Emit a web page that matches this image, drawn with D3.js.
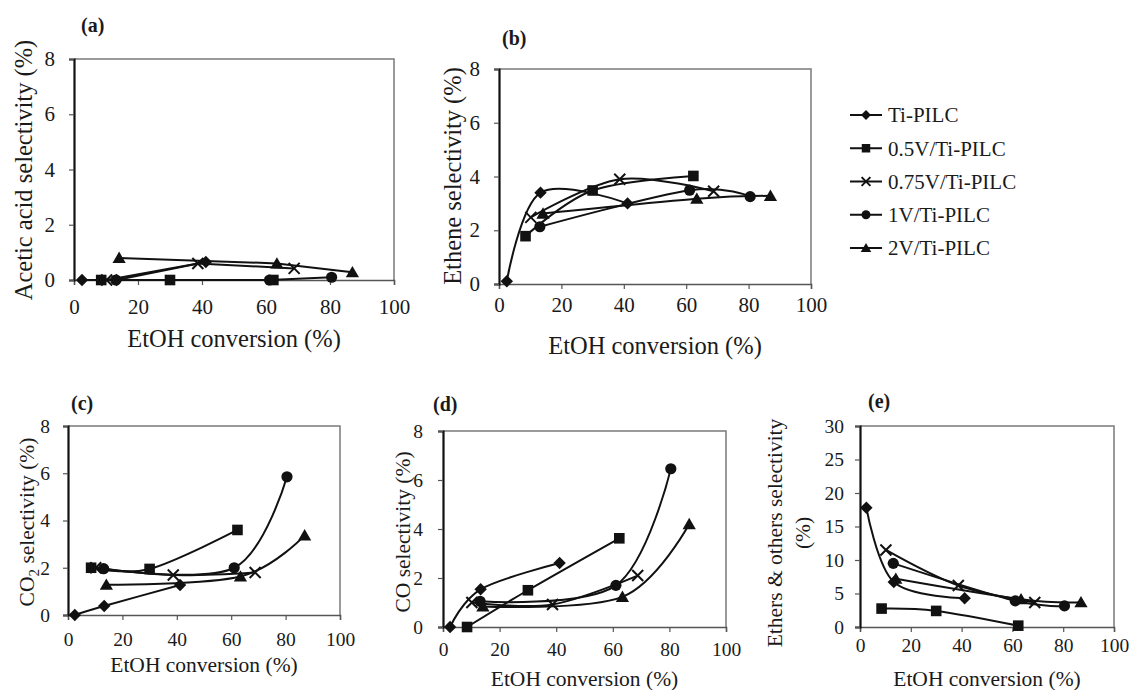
<!DOCTYPE html>
<html><head><meta charset="utf-8">
<script src="https://cdn.jsdelivr.net/npm/d3@7"></script>
<style>body{margin:0;background:#fff}svg{display:block}svg text{font-family:"Liberation Serif","Tinos","Times New Roman","DejaVu Serif",serif !important;fill:#1a1a1a}</style>
</head><body>
<svg id="c" width="1132" height="690"></svg>
<script>
// ---- data ----
const seriesNames = ["Ti-PILC", "0.5V/Ti-PILC", "0.75V/Ti-PILC", "1V/Ti-PILC", "2V/Ti-PILC"];
const markers = ["diamond", "square", "cross", "circle", "triangle"];
// EtOH conversion (%) for each catalyst
const convTi  = [2.5, 13.3, 41.2];
const conv05  = [8.5, 30.0, 62.3];
const conv075 = [10.2, 38.7, 68.8];
const conv1   = [13.1, 61.1, 80.5];
const conv2   = [14.1, 63.4, 87.0];
// (a) acetic acid selectivity (%)
const aceticTi = [0, 0, 0.65], acetic05 = [0, 0, 0], acetic075 = [0, 0.6, 0.42], acetic1 = [0, 0, 0.1], acetic2 = [0.8, 0.6, 0.28];
// (b) ethene selectivity (%)
const etheneTi = [0.1, 3.4, 3.0], ethene05 = [1.78, 3.48, 4.02], ethene075 = [2.48, 3.9, 3.45], ethene1 = [2.13, 3.49, 3.25], ethene2 = [2.62, 3.17, 3.28];
// (c) CO2 selectivity (%)
const co2Ti = [0, 0.38, 1.27], co205 = [2.0, 1.95, 3.6], co2075 = [2.0, 1.69, 1.8], co21 = [1.96, 2.0, 5.85], co22 = [1.28, 1.63, 3.37];
// (d) CO selectivity (%)
const coTi = [0, 1.54, 2.61], co05 = [0, 1.5, 3.62], co075 = [1.0, 0.92, 2.1], co1 = [1.05, 1.7, 6.46], co2 = [0.84, 1.23, 4.2];
// (e) ethers & others selectivity (%)
const ethTi = [17.8, 6.7, 4.3], eth05 = [2.75, 2.4, 0.2], eth075 = [11.5, 6.2, 3.65], eth1 = [9.5, 3.9, 3.15], eth2 = [7.2, 4.15, 3.7];
const xTicks = [0, 20, 40, 60, 80, 100];
const yTicks8 = [0, 2, 4, 6, 8];
const yTicks30 = [0, 5, 10, 15, 20, 25, 30];

const convs = [convTi, conv05, conv075, conv1, conv2];
const FONT = '"Liberation Serif","Tinos","Times New Roman","DejaVu Serif",serif';

const panels = [
  {tag:"(a)", ys:[aceticTi, acetic05, acetic075, acetic1, acetic2], yMax:8, yTicks:yTicks8,
   L:74, R:394, T:59, B:280, curve:false, tickFs:21, labFs:24.5,
   ylab:["Acetic acid selectivity (%)"], ylabX:[23], ylabY:170, xlabY:347, xGap:34, yGap:19, tagX:81, tagY:32},
  {tag:"(b)", ys:[etheneTi, ethene05, ethene075, ethene1, ethene2], yMax:8, yTicks:yTicks8,
   L:499, R:811, T:69, B:284, curve:true, tickFs:21, labFs:24.5,
   ylab:["Ethene selectivity (%)"], ylabX:[452], ylabY:176, xlabY:354, xGap:28, yGap:19, tagX:502, tagY:45},
  {tag:"(c)", ys:[co2Ti, co205, co2075, co21, co22], yMax:8, yTicks:yTicks8,
   L:68, R:340, T:426, B:615, curve:true, tickFs:19.5, labFs:21.5,
   ylab:["CO2"], ylabX:[26], ylabY:522, xlabY:672, xGap:31, yGap:18, tagX:71, tagY:410},
  {tag:"(d)", ys:[coTi, co05, co075, co1, co2], yMax:8, yTicks:yTicks8,
   L:443, R:726, T:431, B:627, curve:true, tickFs:19.5, labFs:21.5,
   ylab:["CO selectivity (%)"], ylabX:[402], ylabY:532, xlabY:686, xGap:29, yGap:20, tagX:433, tagY:411},
  {tag:"(e)", ys:[ethTi, eth05, eth075, eth1, eth2], yMax:30, yTicks:yTicks30,
   L:860, R:1114, T:426, B:627, curve:true, tickFs:19.5, labFs:21.5,
   ylab:["Ethers & others selectivity", "(%)"], ylabX:[774, 802], ylabY:533, xlabY:686, xGap:25, yGap:16, tagX:868, tagY:408}
];

const svg = d3.select("#c");

function drawMarker(g, type, cx, cy, s) {
  s = s || 1;
  if (type === "diamond") {
    const h = 6.2 * s;
    g.append("path").attr("d", `M${cx},${cy-h}L${cx+h},${cy}L${cx},${cy+h}L${cx-h},${cy}Z`).attr("fill", "#111");
  } else if (type === "square") {
    const h = 5.3 * s;
    g.append("rect").attr("x", cx-h).attr("y", cy-h).attr("width", 2*h).attr("height", 2*h).attr("fill", "#111");
  } else if (type === "circle") {
    g.append("circle").attr("cx", cx).attr("cy", cy).attr("r", 5.6 * s).attr("fill", "#111");
  } else if (type === "triangle") {
    const h = 6.3 * s;
    g.append("path").attr("d", `M${cx},${cy-h}L${cx+h*1.05},${cy+h*0.8}L${cx-h*1.05},${cy+h*0.8}Z`).attr("fill", "#111");
  } else if (type === "cross") {
    const h = 5.5 * s;
    g.append("path").attr("d", `M${cx-h},${cy-h}L${cx+h},${cy+h}M${cx-h},${cy+h}L${cx+h},${cy-h}`)
      .attr("stroke", "#111").attr("stroke-width", 2).attr("fill", "none");
  }
}

panels.forEach(p => {
  const x = d3.scaleLinear().domain([0, 100]).range([p.L, p.R]);
  const y = d3.scaleLinear().domain([0, p.yMax]).range([p.B, p.T]);
  const g = svg.append("g");

  g.append("path").attr("d", `M${p.L},${p.T}H${p.R}V${p.B}`).attr("fill", "none").attr("stroke", "#7a7a7a").attr("stroke-width", 1.5);

  const xa = g.append("g").attr("transform", `translate(0,${p.B})`)
    .call(d3.axisBottom(x).tickValues(xTicks).tickSize(5).tickPadding(p.xGap - 5 - p.tickFs * 0.72).tickFormat(d3.format("d")));
  xa.attr("font-family", FONT);
  xa.select(".domain").attr("stroke", "#555").attr("stroke-width", 1.5);
  xa.selectAll(".tick line").attr("stroke", "#555").attr("stroke-width", 1.2);
  xa.selectAll(".tick text").attr("font-size", p.tickFs).attr("fill", "#1a1a1a");

  const ya = g.append("g").attr("transform", `translate(${p.L},0)`)
    .call(d3.axisLeft(y).tickValues(p.yTicks).tickSize(5).tickPadding(p.yGap - 5).tickFormat(d3.format("d")));
  ya.attr("font-family", FONT);
  ya.select(".domain").attr("stroke", "#111").attr("stroke-width", 2.2);
  ya.selectAll(".tick line").attr("stroke", "#555").attr("stroke-width", 1.2);
  ya.selectAll(".tick text").attr("font-size", p.tickFs).attr("fill", "#1a1a1a");

  const line = d3.line().x(d => x(d[0])).y(d => y(d[1]))
    .curve(p.curve ? d3.curveCardinal.tension(0) : d3.curveLinear);
  p.ys.forEach((vals, i) => {
    const pts = convs[i].map((c, k) => [c, vals[k]]);
    g.append("path").datum(pts).attr("d", line).attr("fill", "none").attr("stroke", "#111").attr("stroke-width", 2);
  });
  p.ys.forEach((vals, i) => {
    convs[i].forEach((c, k) => drawMarker(g, markers[i], x(c), y(vals[k])));
  });

  g.append("text").attr("x", (p.L + p.R) / 2).attr("y", p.xlabY).attr("text-anchor", "middle")
    .attr("font-size", p.labFs).text("EtOH conversion (%)");
  if (p.ylab[0] === "CO2") {
    const t = g.append("text").attr("transform", `translate(${p.ylabX[0]},${p.ylabY}) rotate(-90)`)
      .attr("text-anchor", "middle").attr("dy", "0.35em").attr("font-size", p.labFs);
    t.append("tspan").text("CO");
    t.append("tspan").attr("font-size", p.labFs * 0.7).attr("dy", 5).text("2");
    t.append("tspan").attr("dy", -5).text(" selectivity (%)");
  } else {
    p.ylab.forEach((s, k) => {
      g.append("text").attr("transform", `translate(${p.ylabX[k]},${p.ylabY}) rotate(-90)`)
        .attr("text-anchor", "middle").attr("dy", "0.35em").attr("font-size", p.labFs).text(s);
    });
  }
  g.append("text").attr("x", p.tagX).attr("y", p.tagY).attr("font-size", 20).attr("font-weight", "bold").text(p.tag);
});

const leg = svg.append("g");
const legY = d3.scalePoint().domain(seriesNames).range([115, 248]);
seriesNames.forEach((s, i) => {
  const yy = legY(s);
  leg.append("line").attr("x1", 850).attr("x2", 882).attr("y1", yy).attr("y2", yy).attr("stroke", "#111").attr("stroke-width", 2);
  drawMarker(leg, markers[i], 866, yy, 0.8);
  leg.append("text").attr("x", 888).attr("y", yy).attr("dy", "0.35em").attr("font-size", 21).text(s);
});
</script>
</body></html>
